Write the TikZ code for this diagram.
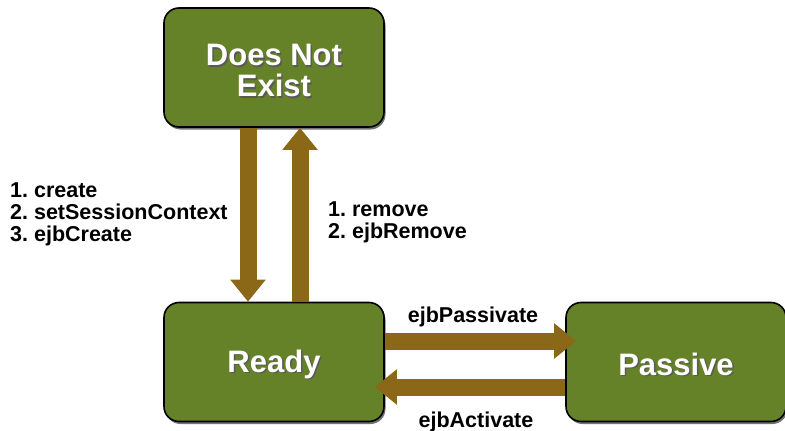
\documentclass[tikz,border=0pt]{standalone}
\usepackage{fontspec}
\setmainfont{Liberation Sans}
\usetikzlibrary{arrows.meta,shadows}
\definecolor{boxgreen}{RGB}{102,130,41}
\definecolor{arrowbrown}{RGB}{139,104,24}
\newcommand{\shtext}[1]{\makebox[0pt][l]{\hspace{1.5pt}\raisebox{-1.5pt}{\color{black!65}#1}}#1}
\newcommand{\lowtext}[2]{\raisebox{-#1}[\height][\depth]{#2}}
\frenchspacing
\begin{document}
\begin{tikzpicture}[x=1pt,y=-1pt,
  state/.style={draw=black, line width=1.6pt, fill=boxgreen, rounded corners=15pt,
    minimum width=220pt, minimum height=119pt, inner sep=0pt, text=white,
    font=\fontsize{31}{31}\selectfont\bfseries, align=center,
    drop shadow={shadow xshift=1.5pt, shadow yshift=-2.5pt, opacity=0.55, fill=black}},
  fatarrow/.style={draw=arrowbrown, line width=17pt, -{Triangle[width=34pt,length=22pt]}},
  lbl/.style={font=\fontsize{21.5}{22}\selectfont\bfseries, inner sep=0pt, align=left}]
\useasboundingbox[fill=white] (0,0) rectangle (785,431);
\node[state] (dne) at (274,67.5) {\lowtext{4pt}{\shtext{Does Not}}\\\lowtext{4pt}{\shtext{Exist}}};
\node[state] (ready) at (274,362) {\lowtext{3pt}{\shtext{Ready}}};
\node[state] (passive) at (676,362) {\lowtext{3pt}{\shtext{Passive}}};
\draw[fatarrow] ([xshift=-26pt]dne.south) -- ([xshift=-26pt]ready.north);
\draw[fatarrow] ([xshift=26pt]ready.north) -- ([xshift=26pt]dne.south);
\draw[fatarrow] ([yshift=21pt]ready.east) -- ([yshift=21pt,xshift=11pt]passive.west);
\draw[fatarrow] ([yshift=-25pt]passive.west) -- ([yshift=-25pt,xshift=-10pt]ready.east);
\node[lbl, anchor=north west] (lcreate) at (10,183) {1. create\\2. setSessionContext\\3. ejbCreate};
\node[lbl, anchor=north west] (lremove) at (328,202) {1. remove\\2. ejbRemove};
\node[lbl, anchor=base] (lpass) at (473,322) {ejbPassivate};
\node[lbl, anchor=base] (lact) at (476,427) {ejbActivate};
\end{tikzpicture}
\end{document}
